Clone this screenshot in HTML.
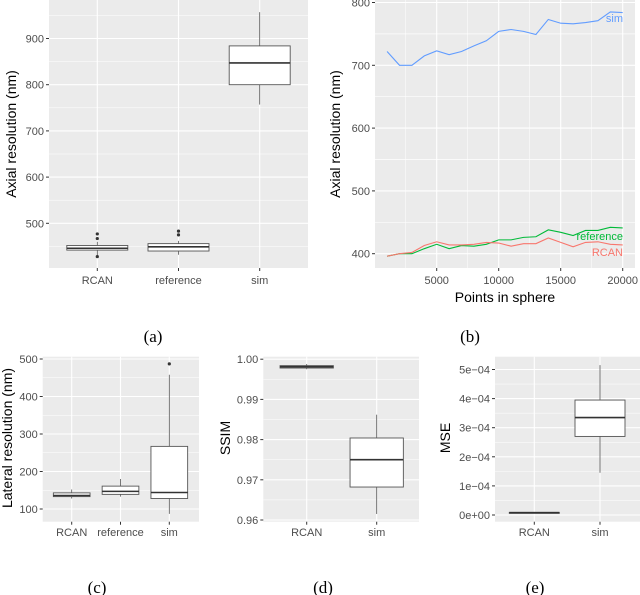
<!DOCTYPE html>
<html><head><meta charset="utf-8"><style>
body{margin:0;background:#fff;}
svg{display:block;font-family:"Liberation Sans",sans-serif;}
.tick{fill:#4d4d4d;font-size:11px;}
.title{fill:#000;font-size:14px;}
.cap{font-family:"Liberation Serif",serif;font-size:17px;fill:#000;}
</style></head><body>
<svg id="s" width="640" height="595" viewBox="0 0 640 595"></svg>
<script>
// Panel a data
const aCats=["RCAN","reference","sim"];
const aStats=[[430,442,446,452,460],[432,440,449,456,462],[757,800,847,884,957]];
const aOut=[[428,467,477],[475,483],[]];
const aTicks=[500,600,700,800,900];
// Panel b data
const bX=[1000,2000,3000,4000,5000,6000,7000,8000,9000,10000,11000,12000,13000,14000,15000,16000,17000,18000,19000,20000];
const bSim=[722,700,700,715,723,717,722,731,739,754,757,754,749,773,767,766,768,771,785,784];
const bRef=[396,400,400,408,415,408,413,412,415,422,422,426,427,438,434,429,437,437,442,441];
const bRcan=[396,400,402,413,419,414,414,415,418,417,412,416,416,425,418,411,418,419,415,414];
const bYTicks=[400,500,600,700,800];
const bXTicks=[5000,10000,15000,20000];
// Panel c data
const cCats=["RCAN","reference","sim"];
const cStats=[[128,133,136,143,152],[133,139,147,161,180],[87,128,144,267,458]];
const cOut=[[],[],[487]];
const cTicks=[100,200,300,400,500];
// Panel d data
const dCats=["RCAN","sim"];
const dStats=[[0.9975,0.9978,0.9981,0.9984,0.9988],[0.9615,0.9682,0.975,0.9804,0.9862]];
const dTicks=[0.96,0.97,0.98,0.99,1.00];
const dLabels=["0.96","0.97","0.98","0.99","1.00"];
// Panel e data
const eCats=["RCAN","sim"];
const eStats=[[0.000006,0.000007,0.000008,0.000009,0.00001],[0.000145,0.00027,0.000335,0.000395,0.000515]];
const eTicks=[0,0.0001,0.0002,0.0003,0.0004,0.0005];
const eLabels=["0e+00","1e\u221204","2e\u221204","3e\u221204","4e\u221204","5e\u221204"];

const svg=document.getElementById('s');
const NS="http://www.w3.org/2000/svg";
function mk(tag,at,parent){const e=document.createElementNS(NS,tag);for(const k in at)e.setAttribute(k,at[k]);(parent||svg).appendChild(e);return e;}
function txt(x,y,s,cls,anchor,parent,rot){const t=mk('text',{x:x,y:y,class:cls,'text-anchor':anchor||'middle'},parent);if(rot)t.setAttribute('transform','rotate(-90 '+x+' '+y+')');t.textContent=s;return t;}

function panel(name,x0,x1,y0,y1){
  const g=mk('g',{});
  
  
  mk('rect',{x:x0,y:y0,width:x1-x0,height:y1-y0,fill:'#ebebeb'},g);
  return g;
}
function yAxis(g,x0,x1,ticks,labels,sy,minor){
  for(let i=0;i<ticks.length-1;i++){const m=sy((ticks[i]+ticks[i+1])/2);mk('line',{x1:x0,x2:x1,y1:m,y2:m,stroke:'#fff','stroke-width':0.5},g);}
  if(minor){const m=sy(ticks[0]-(ticks[1]-ticks[0])/2);mk('line',{x1:x0,x2:x1,y1:m,y2:m,stroke:'#fff','stroke-width':0.5},g);}
  ticks.forEach((t,i)=>{const y=sy(t);
    mk('line',{x1:x0,x2:x1,y1:y,y2:y,stroke:'#fff','stroke-width':1.1},g);
    mk('line',{x1:x0-3,x2:x0,y1:y,y2:y,stroke:'#333','stroke-width':1},g);
    const l=txt(x0-5,y+4,labels[i],'tick','end',g);
    });
}
function boxes(g,cats,stats,outs,cx,sy,w,yb,y0,y1){
  cats.forEach((c,i)=>{const x=cx(i);
    mk('line',{x1:x,x2:x,y1:y0,y2:y1,stroke:'#fff','stroke-width':1.1},g);
    mk('line',{x1:x,x2:x,y1:y1,y2:y1+3,stroke:'#333','stroke-width':1},g);
    const l=txt(x,yb,c,'tick','middle',g);});
  cats.forEach((c,i)=>{const x=cx(i),s=stats[i];
    const b=mk('g',{},g);
    
    
    mk('line',{x1:x,x2:x,y1:sy(s[0]),y2:sy(s[4]),stroke:'#555','stroke-width':0.8},b);
    mk('rect',{x:x-w/2,y:sy(s[3]),width:w,height:Math.max(sy(s[1])-sy(s[3]),1),fill:'#fff',stroke:'#555','stroke-width':0.9},b);
    mk('line',{x1:x-w/2,x2:x+w/2,y1:sy(s[2]),y2:sy(s[2]),stroke:'#333','stroke-width':1.6},b);
    (outs?outs[i]:[]).forEach(o=>mk('circle',{cx:x,cy:sy(o),r:1.6,fill:'#333'},b));
  });
}

// (a)
{const x0=49,x1=308,y0=0,y1=268;const g=panel('plot-a',x0,x1,y0,y1);
 const sy=v=>223.3-(v-500)*0.462;
 yAxis(g,x0,x1,aTicks,aTicks.map(String),sy,true);
 mk('line',{x1:x0,x2:x1,y1:sy(950),y2:sy(950),stroke:'#fff','stroke-width':0.5},g);
 boxes(g,aCats,aStats,aOut,i=>97.3+i*81.2,sy,61,284,y0,y1);
 txt(16,134,'Axial resolution (nm)','title','middle',g,true);
 txt(153,342,'(a)','cap','middle');}
// (b)
{const x0=375,x1=635,y0=0,y1=268;const g=panel('plot-b',x0,x1,y0,y1);
 const sy=v=>253.7-(v-400)*0.628; const sx=v=>436.7+(v-5000)*0.0124;
 yAxis(g,x0,x1,bYTicks,bYTicks.map(String),sy,false);
 [350,450,550,650,750].forEach(v=>mk('line',{x1:x0,x2:x1,y1:sy(v),y2:sy(v),stroke:'#fff','stroke-width':0.5},g));
 [2500,7500,12500,17500].forEach(v=>mk('line',{x1:sx(v),x2:sx(v),y1:y0,y2:y1,stroke:'#fff','stroke-width':0.5},g));
 bXTicks.forEach(v=>{mk('line',{x1:sx(v),x2:sx(v),y1:y0,y2:y1,stroke:'#fff','stroke-width':1.1},g);
   mk('line',{x1:sx(v),x2:sx(v),y1:y1,y2:y1+3,stroke:'#333'},g);
   const l=txt(sx(v),284,String(v),'tick','middle',g);});
 const series=[[bSim,'#619cff','sim',22],[bRef,'#00ba38','reference',240],[bRcan,'#f8766d','RCAN',256]];
 series.forEach(([d,c,n,ly])=>{const p=mk('polyline',{points:bX.map((x,i)=>sx(x)+','+sy(d[i])).join(' '),fill:'none',stroke:c,'stroke-width':1.1},g);
   
   const l=txt(623,ly,n,'tick','end',g);l.setAttribute('style','fill:'+c);
   });
 txt(505,302,'Points in sphere','title','middle',g);
 txt(340,134,'Axial resolution (nm)','title','middle',g,true);
 txt(470,342,'(b)','cap','middle');}
// (c)
{const x0=42.7,x1=199,y0=356.7,y1=521.7;const g=panel('plot-c',x0,x1,y0,y1);
 const sy=v=>509-(v-100)*0.375;
 yAxis(g,x0,x1,cTicks,cTicks.map(String),sy,false);
 boxes(g,cCats,cStats,cOut,i=>71.7+i*48.8,sy,36.7,536,y0,y1);
 txt(12,438,'Lateral resolution (nm)','title','middle',g,true);
 txt(97,593,'(c)','cap','middle');}
// (d)
{const x0=263.3,x1=419,y0=356.7,y1=521.7;const g=panel('plot-d',x0,x1,y0,y1);
 const sy=v=>520-(v-0.96)*4020;
 yAxis(g,x0,x1,dTicks,dLabels,sy,false);
 boxes(g,dCats,dStats,null,i=>306.7+i*70,sy,53.3,536,y0,y1);
 txt(230,438,'SSIM','title','middle',g,true);
 txt(323,593,'(d)','cap','middle');}
// (e)
{const x0=495,x1=640,y0=356.7,y1=521.7;const g=panel('plot-e',x0,x1,y0,y1);
 const sy=v=>515-v*291000;
 yAxis(g,x0,x1,eTicks,eLabels,sy,false);
 boxes(g,eCats,eStats,null,i=>534.3+i*65.7,sy,50,536,y0,y1);
 txt(450,438,'MSE','title','middle',g,true);
 txt(535,593,'(e)','cap','middle');}
</script>
</body></html>
